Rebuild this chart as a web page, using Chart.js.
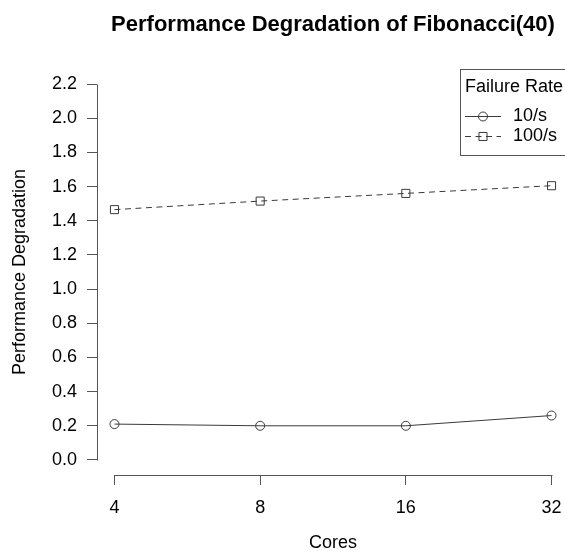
<!DOCTYPE html>
<html><head><meta charset="utf-8">
<script src="https://cdn.jsdelivr.net/npm/chart.js@4/dist/chart.umd.min.js"></script>
<style>html,body{margin:0;padding:0;background:#fff;overflow:hidden;width:565px;height:559px}canvas{display:block}</style>
</head><body>
<canvas id="c" width="600" height="559"></canvas>
<script>
// ---- data ----
const chartTitle = 'Performance Degradation of Fibonacci(40)';
const xTitle = 'Cores';
const yTitle = 'Performance Degradation';
const legendTitle = 'Failure Rate';
const cores = [4, 8, 16, 32];
const rate10 = [0.21, 0.20, 0.20, 0.26];
const rate100 = [1.465, 1.515, 1.56, 1.605];
const seriesLabels = ['10/s', '100/s'];
const yTicks = [0.0, 0.2, 0.4, 0.6, 0.8, 1.0, 1.2, 1.4, 1.6, 1.8, 2.0, 2.2];

const FONT = '"Liberation Sans", Arial, Helvetica, sans-serif';
Chart.defaults.font.family = FONT;
Chart.defaults.color = '#000';
const LINE = '#3a3a3a';
const AXIS = '#555';

const decor = {
  id: 'decor',
  afterDraw(chart) {
    const ctx = chart.ctx, ca = chart.chartArea;
    const xs = chart.scales.x, ys = chart.scales.y;
    ctx.save();
    // axis lines spanning tick range (R style)
    ctx.strokeStyle = AXIS; ctx.lineWidth = 1;
    const ax = Math.round(ca.left) + 0.5;
    ctx.beginPath();
    ctx.moveTo(ax, Math.round(ys.getPixelForValue(yTicks[0])) + 0.5);
    ctx.lineTo(ax, Math.round(ys.getPixelForValue(yTicks[yTicks.length - 1])) + 0.5);
    const ay = Math.round(ca.bottom) + 0.5;
    ctx.moveTo(Math.round(xs.getPixelForValue(cores[0])) + 0.5, ay);
    ctx.lineTo(Math.round(xs.getPixelForValue(cores[cores.length - 1])) + 0.5, ay);
    ctx.stroke();
    // title
    ctx.fillStyle = '#000';
    ctx.font = 'bold 22px ' + FONT;
    ctx.textAlign = 'center'; ctx.textBaseline = 'middle';
    ctx.fillText(chartTitle, (ca.left + ca.right) / 2, 25);
    // legend
    const bx = 460.5, by = Math.round(ca.top) + 0.5, bw = ca.right - 460, bh = 86;
    ctx.strokeStyle = AXIS;
    ctx.strokeRect(bx, by, bw, bh);
    ctx.font = '18px ' + FONT;
    ctx.textAlign = 'left';
    ctx.fillText(legendTitle, 465, 87);
    const rowsY = [116, 136];
    chart.data.datasets.forEach((ds, i) => {
      const y = rowsY[i] + 0.5;
      ctx.strokeStyle = LINE; ctx.lineWidth = 1;
      ctx.setLineDash(ds.borderDash || []);
      ctx.beginPath(); ctx.moveTo(465, y); ctx.lineTo(501, y); ctx.stroke();
      ctx.setLineDash([]);
      ctx.fillStyle = 'rgba(0,0,0,0)';
      Chart.helpers.drawPoint(ctx, {pointStyle: ds.pointStyle, radius: ds.pointRadius, borderWidth: 1}, 483, y);
      ctx.fillStyle = '#000';
      ctx.fillText(ds.label, 513, rowsY[i]);
    });
    ctx.restore();
  }
};

new Chart(document.getElementById('c'), {
  type: 'line',
  data: {
    datasets: [
      { label: seriesLabels[0], data: cores.map((c, i) => ({x: c, y: rate10[i]})),
        borderColor: LINE, borderWidth: 1, pointStyle: 'circle', pointRadius: 4.5,
        pointBorderColor: LINE, pointBackgroundColor: 'rgba(0,0,0,0)', pointBorderWidth: 1, tension: 0 },
      { label: seriesLabels[1], data: cores.map((c, i) => ({x: c, y: rate100[i]})),
        borderColor: LINE, borderWidth: 1, borderDash: [6, 4.5], pointStyle: 'rect', pointRadius: 5.7,
        pointBorderColor: LINE, pointBackgroundColor: 'rgba(0,0,0,0)', pointBorderWidth: 1, tension: 0 }
    ]
  },
  options: {
    responsive: false, animation: false, devicePixelRatio: 1,
    layout: { padding: { top: 69, right: 31, left: 0, bottom: 0 } },
    plugins: { legend: { display: false }, title: { display: false }, tooltip: { enabled: false } },
    scales: {
      x: {
        type: 'logarithmic',
        min: 4 * Math.pow(2, -0.12), max: 32 * Math.pow(2, 0.12),
        afterBuildTicks: s => { s.ticks = cores.map(v => ({ value: v })); },
        afterFit: s => { s.height = 84; },
        grid: { display: true, drawOnChartArea: false, drawTicks: true, tickLength: 10, color: AXIS, lineWidth: 1 },
        border: { display: false },
        ticks: { autoSkip: false, maxRotation: 0, padding: 12, font: { size: 18 }, color: '#000', callback: v => String(v) },
        title: { display: true, text: xTitle, font: { size: 18 }, color: '#000', padding: { top: 0, bottom: 5 } }
      },
      y: {
        type: 'linear', min: -0.088, max: 2.288,
        afterBuildTicks: s => { s.ticks = yTicks.map(v => ({ value: v })); },
        afterFit: s => { s.width = 97; },
        grid: { display: true, drawOnChartArea: false, drawTicks: true, tickLength: 10, color: AXIS, lineWidth: 1 },
        border: { display: false },
        ticks: { autoSkip: false, padding: 10, font: { size: 18 }, color: '#000', callback: v => v.toFixed(1) },
        title: { display: true, text: yTitle, font: { size: 18 }, color: '#000', padding: { top: 9, bottom: 0 } }
      }
    }
  },
  plugins: [decor]
});
</script>
</body></html>
